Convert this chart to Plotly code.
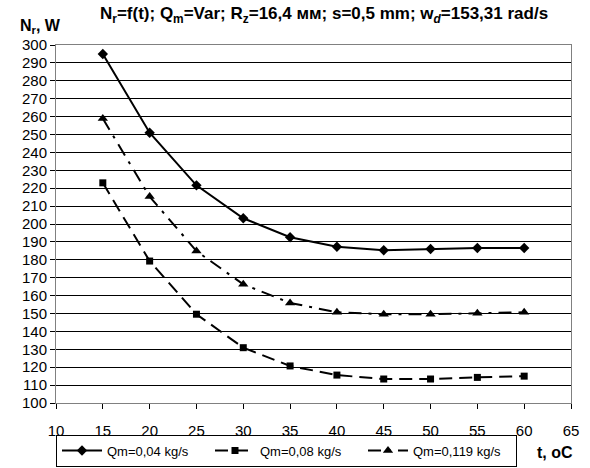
import plotly.graph_objects as go

t_vals = [15, 20, 25, 30, 35, 40, 45, 50, 55, 60]
nr_004 = [295, 251, 221.6, 203.2, 192.6, 187.3, 185.3, 186.0, 186.6, 186.6]
nr_008 = [223, 179.3, 149.6, 130.9, 120.7, 115.6, 113.4, 113.4, 114.3, 115.0]
nr_0119 = [258.9, 215.3, 184.9, 166.3, 155.9, 150.7, 149.6, 149.6, 150.1, 150.7]

names = ["Qm=0,04 kg/s", "Qm=0,08 kg/s", "Qm=0,119 kg/s"]
font_family = "Liberation Sans, Arial, sans-serif"

fig = go.Figure()
fig.add_trace(go.Scatter(x=t_vals, y=nr_004, name=names[0], mode="lines+markers",
                         line=dict(color="black", width=2, dash="solid"),
                         marker=dict(symbol="diamond", size=8, color="black")))
fig.add_trace(go.Scatter(x=t_vals, y=nr_008, name=names[1], mode="lines+markers",
                         line=dict(color="black", width=2, dash="13px,7px"),
                         marker=dict(symbol="square", size=7, color="black")))
fig.add_trace(go.Scatter(x=t_vals, y=nr_0119, name=names[2], mode="lines+markers",
                         line=dict(color="black", width=2, dash="13px,7px,3px,7px"),
                         marker=dict(symbol="triangle-up", size=9, color="black")))

fig.update_layout(
    width=590, height=468,
    margin=dict(l=56, r=19, t=45, b=65, autoexpand=False),
    paper_bgcolor="white", plot_bgcolor="white",
    font=dict(family=font_family, size=15, color="black"),
    showlegend=True,
    legend=dict(orientation="h", x=0.0, xanchor="left", y=-0.088, yanchor="top",
                bordercolor="black", borderwidth=1, font=dict(size=13),
                entrywidth=98, entrywidthmode="pixels", tracegroupgap=0,
                itemwidth=40),
    xaxis=dict(range=[10, 65], dtick=5, tick0=10, showgrid=False,
               showline=True, linecolor="#808080", linewidth=1, mirror=True,
               ticks="outside", ticklen=5, tickcolor="black",
               ticklabelstandoff=9, automargin=False,
               tickfont=dict(size=15), zeroline=False),
    yaxis=dict(range=[100, 300], dtick=10, tick0=100, showgrid=True,
               gridcolor="black", gridwidth=1, automargin=False,
               showline=True, linecolor="#808080", linewidth=1, mirror=True,
               ticks="outside", ticklen=5, tickcolor="black",
               tickfont=dict(size=15), zeroline=False),
)

fig.add_annotation(text="<b>N<sub>r</sub>=f(t); Q<sub>m</sub>=Var; R<sub>z</sub>=16,4 мм; s=0,5 mm; w<sub><i>d</i></sub>=153,31 rad/s</b>",
                   xref="paper", yref="paper", x=0.52, y=1.0, xanchor="center", yanchor="middle",
                   yshift=30, showarrow=False, font=dict(size=17, family=font_family))
fig.add_annotation(text="<b>N<sub>r</sub>, W</b>", xref="paper", yref="paper", x=-0.031, y=1.0,
                   xanchor="center", yanchor="middle", yshift=19, showarrow=False,
                   font=dict(size=16, family=font_family))
fig.add_annotation(text="<b>t, oC</b>", xref="paper", yref="paper", x=0.969, y=0.0,
                   xanchor="center", yanchor="middle", yshift=-49, showarrow=False,
                   font=dict(size=16, family=font_family))

fig.write_html("out.html")
